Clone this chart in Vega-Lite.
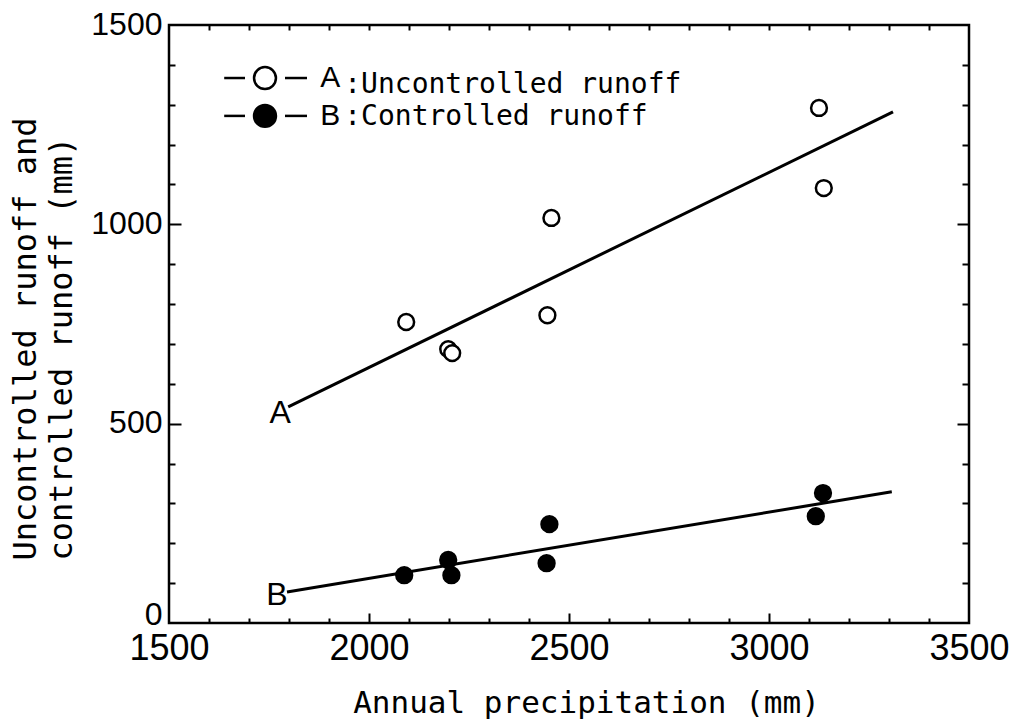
{
  "$schema": "https://vega.github.io/schema/vega-lite/v6.json",
  "width": 800,
  "height": 598,
  "autosize": {"type": "none"},
  "padding": {"left": 169, "top": 25, "right": 41, "bottom": 101},
  "background": "white",
  "config": {
    "view": {"stroke": "black", "strokeWidth": 2.5},
    "axis": {"grid": false, "domain": false, "tickColor": "black", "tickWidth": 2, "labelColor": "black", "titleColor": "black"}
  },
  "datasets": {
    "lines": [
      {"s": "A", "x": 1798, "y": 542},
      {"s": "A", "x": 3310, "y": 1282},
      {"s": "B", "x": 1795, "y": 78},
      {"s": "B", "x": 3307, "y": 329}
    ],
    "pts": [
      {"s": "A", "x": 2093, "y": 755},
      {"s": "A", "x": 2198, "y": 687},
      {"s": "A", "x": 2208, "y": 677},
      {"s": "A", "x": 2446, "y": 772},
      {"s": "A", "x": 2456, "y": 1016},
      {"s": "A", "x": 3125, "y": 1292},
      {"s": "A", "x": 3137, "y": 1091},
      {"s": "B", "x": 2088, "y": 120},
      {"s": "B", "x": 2198, "y": 158},
      {"s": "B", "x": 2206, "y": 120},
      {"s": "B", "x": 2451, "y": 248},
      {"s": "B", "x": 2444, "y": 150},
      {"s": "B", "x": 3135, "y": 326},
      {"s": "B", "x": 3117, "y": 268}
    ],
    "lab": [
      {"x": 1778, "y": 527, "t": "A"},
      {"x": 1770, "y": 70, "t": "B"}
    ],
    "legDash": [
      {"x": 1638, "x2": 1690, "y": 1367},
      {"x": 1790, "x2": 1845, "y": 1367},
      {"x": 1638, "x2": 1690, "y": 1272},
      {"x": 1790, "x2": 1845, "y": 1272}
    ],
    "legPt": [
      {"s": "A", "x": 1740, "y": 1367},
      {"s": "B", "x": 1740, "y": 1272}
    ],
    "legLetter": [
      {"x": 1903, "y": 1367, "t": "A"},
      {"x": 1903, "y": 1272, "t": "B"}
    ],
    "legText": [
      {"x": 1938, "y": 1350, "t": ":Uncontrolled runoff"},
      {"x": 1938, "y": 1269, "t": ":Controlled runoff"}
    ]
  },
  "resolve": {"axis": {"x": "independent", "y": "independent"}},
  "layer": [
    {
      "data": {"name": "lines"},
      "mark": {"type": "line", "color": "black", "strokeWidth": 3},
      "encoding": {
        "x": {"field": "x", "type": "quantitative", "scale": {"domain": [1500, 3500], "nice": false, "zero": false},
          "axis": {"orient": "bottom", "values": [1500, 2000, 2500, 3000, 3500], "format": "d", "ticks": false, "labelFont": "Liberation Sans", "labelFontSize": 36, "labelPadding": 8, "labelFlush": false, "labelOverlap": false,
            "title": "Annual precipitation  (mm)", "titleFont": "DejaVu Sans Mono", "titleFontSize": 31, "titleFontWeight": "normal", "titleX": 417, "titleY": 89, "titleAlign": "center", "titleBaseline": "alphabetic"}},
        "y": {"field": "y", "type": "quantitative", "scale": {"domain": [0, 1500], "nice": false, "zero": false},
          "axis": {"orient": "left", "values": [0, 500, 1000, 1500], "format": "d", "ticks": false, "labelFont": "Liberation Sans", "labelFontSize": 32, "labelPadding": 7, "labelOffset": {"condition": {"test": "datum.value === 0", "value": -9}, "value": -1}, "labelOverlap": false,
            "title": ["Uncontrolled runoff and", "controlled runoff  (mm)"], "titleFont": "DejaVu Sans Mono", "titleFontSize": 32, "titleFontWeight": "normal", "titleAngle": 270, "titleAlign": "left", "titleBaseline": "alphabetic", "titleX": -134, "titleY": 535, "titleLineHeight": 36}},
        "detail": {"field": "s", "type": "nominal"}
      }
    },
    {
      "data": {"name": "pts"},
      "mark": {"type": "point", "shape": "circle", "filled": true, "size": 250, "stroke": "black", "strokeWidth": 2.5, "opacity": 1},
      "encoding": {
        "x": {"field": "x", "type": "quantitative", "scale": {"domain": [1500, 3500], "nice": false, "zero": false},
          "axis": {"orient": "bottom", "values": [2000, 2500, 3000], "tickSize": -10, "labels": false, "title": null}},
        "y": {"field": "y", "type": "quantitative", "scale": {"domain": [0, 1500], "nice": false, "zero": false},
          "axis": {"orient": "left", "values": [500, 1000], "tickSize": -12, "labels": false, "title": null}},
        "fill": {"field": "s", "type": "nominal", "scale": {"domain": ["A", "B"], "range": ["white", "black"]}, "legend": null}
      }
    },
    {
      "data": {"name": "lab"},
      "mark": {"type": "text", "font": "Liberation Sans", "fontSize": 32, "color": "black", "align": "center", "baseline": "middle"},
      "encoding": {
        "x": {"field": "x", "type": "quantitative", "scale": {"domain": [1500, 3500], "nice": false, "zero": false},
          "axis": {"orient": "bottom", "values": [1600, 1700, 1800, 1900, 2100, 2200, 2300, 2400, 2600, 2700, 2800, 2900, 3100, 3200, 3300, 3400], "tickSize": -5, "labels": false, "title": null}},
        "y": {"field": "y", "type": "quantitative", "scale": {"domain": [0, 1500], "nice": false, "zero": false},
          "axis": {"orient": "left", "values": [100, 200, 300, 400, 600, 700, 800, 900, 1100, 1200, 1300, 1400], "tickSize": -6, "labels": false, "title": null}},
        "text": {"field": "t"}
      }
    },
    {
      "data": {"name": "legDash"},
      "mark": {"type": "rule", "color": "black", "strokeWidth": 2.5},
      "encoding": {
        "x": {"field": "x", "type": "quantitative", "scale": {"domain": [1500, 3500], "nice": false, "zero": false},
          "axis": {"orient": "top", "values": [1600, 1700, 1800, 1900, 2000, 2100, 2200, 2300, 2400, 2500, 2600, 2700, 2800, 2900, 3000, 3100, 3200, 3300, 3400], "tickSize": -5, "labels": false, "title": null}},
        "x2": {"field": "x2"},
        "y": {"field": "y", "type": "quantitative", "scale": {"domain": [0, 1500], "nice": false, "zero": false},
          "axis": {"orient": "right", "values": [100, 200, 300, 400, 600, 700, 800, 900, 1100, 1200, 1300, 1400], "tickSize": -7, "labels": false, "title": null}}
      }
    },
    {
      "data": {"name": "legPt"},
      "mark": {"type": "point", "shape": "circle", "filled": true, "size": 480, "stroke": "black", "strokeWidth": 2.5, "opacity": 1},
      "encoding": {
        "x": {"field": "x", "type": "quantitative", "scale": {"domain": [1500, 3500], "nice": false, "zero": false}, "axis": null},
        "y": {"field": "y", "type": "quantitative", "scale": {"domain": [0, 1500], "nice": false, "zero": false},
          "axis": {"orient": "right", "values": [500, 1000], "tickSize": -12, "labels": false, "title": null}},
        "fill": {"field": "s", "type": "nominal", "scale": {"domain": ["A", "B"], "range": ["white", "black"]}, "legend": null}
      }
    },
    {
      "data": {"name": "legLetter"},
      "mark": {"type": "text", "font": "Liberation Sans", "fontSize": 30, "color": "black", "align": "center", "baseline": "middle"},
      "encoding": {
        "x": {"field": "x", "type": "quantitative", "scale": {"domain": [1500, 3500], "nice": false, "zero": false}, "axis": null},
        "y": {"field": "y", "type": "quantitative", "scale": {"domain": [0, 1500], "nice": false, "zero": false}, "axis": null},
        "text": {"field": "t"}
      }
    },
    {
      "data": {"name": "legText"},
      "mark": {"type": "text", "font": "DejaVu Sans Mono", "fontSize": 28, "color": "black", "align": "left", "baseline": "middle"},
      "encoding": {
        "x": {"field": "x", "type": "quantitative", "scale": {"domain": [1500, 3500], "nice": false, "zero": false}, "axis": null},
        "y": {"field": "y", "type": "quantitative", "scale": {"domain": [0, 1500], "nice": false, "zero": false}, "axis": null},
        "text": {"field": "t"}
      }
    }
  ]
}
